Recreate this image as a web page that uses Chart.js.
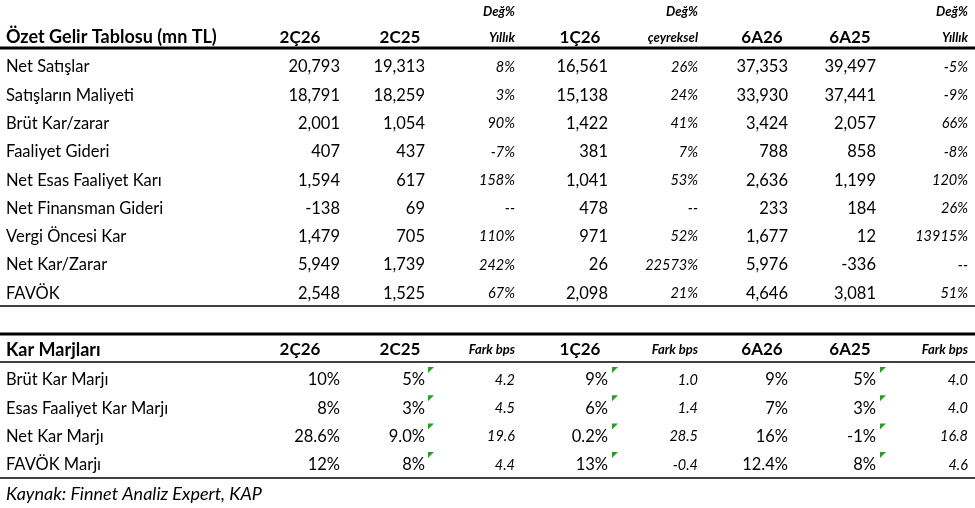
<!DOCTYPE html>
<html><head><meta charset="utf-8">
<script src="https://cdn.jsdelivr.net/npm/chart.js@4.4.1/dist/chart.umd.min.js"></script>
<style>html,body{margin:0;padding:0;background:#fff}#wrap{width:975px;height:508px}</style>
</head><body><div id="wrap"><canvas id="c"></canvas></div>
<script>
const incomeRows = ['Net Satışlar','Satışların Maliyeti','Brüt Kar/zarar','Faaliyet Gideri','Net Esas Faaliyet Karı','Net Finansman Gideri','Vergi Öncesi Kar','Net Kar/Zarar','FAVÖK'];
const q2_26 = ['20,793','18,791','2,001','407','1,594','-138','1,479','5,949','2,548'];
const q2_25 = ['19,313','18,259','1,054','437','617','69','705','1,739','1,525'];
const yoy = ['8%','3%','90%','-7%','158%','--','110%','242%','67%'];
const q1_26 = ['16,561','15,138','1,422','381','1,041','478','971','26','2,098'];
const qoq = ['26%','24%','41%','7%','53%','--','52%','22573%','21%'];
const h1_26 = ['37,353','33,930','3,424','788','2,636','233','1,677','5,976','4,646'];
const h1_25 = ['39,497','37,441','2,057','858','1,199','184','12','-336','3,081'];
const h1yoy = ['-5%','-9%','66%','-8%','120%','26%','13915%','--','51%'];

const marginRows = ['Brüt Kar Marjı','Esas Faaliyet Kar Marjı','Net Kar Marjı','FAVÖK Marjı'];
const m2_26 = ['10%','8%','28.6%','12%'];
const m2_25 = ['5%','3%','9.0%','8%'];
const mYoy = ['4.2','4.5','19.6','4.4'];
const m1_26 = ['9%','6%','0.2%','13%'];
const mQoq = ['1.0','1.4','28.5','-0.4'];
const mh1_26 = ['9%','7%','16%','12.4%'];
const mh1_25 = ['5%','3%','-1%','8%'];
const mH1yoy = ['4.0','4.0','16.8','4.6'];

const colRight = [340, 425, 515, 608, 698, 788, 876, 968];
const italicCol = [false,false,true,false,true,false,false,true];
const FONT = 'Lato, "Open Sans", sans-serif';

const tablePlugin = {
  id: 'table',
  afterDraw(chart) {
    const ctx = chart.ctx, sx = chart.scales.x, sy = chart.scales.y;
    const X = v => sx.getPixelForValue(v), Y = v => sy.getPixelForValue(v);
    const text = (s, x, y, align, font) => {
      ctx.font = font; ctx.textAlign = align; ctx.textBaseline = 'middle'; ctx.fillStyle = '#000';
      ctx.fillText(s, X(x), Y(y));
    };
    const line = (y, w) => {
      ctx.fillStyle = '#000'; ctx.fillRect(X(0), Y(y) - w / 2, X(975) - X(0), w);
    };
    const reg = '16.5px ' + FONT, bold = 'bold 18px ' + FONT, hbold = 'bold 17px ' + FONT;
    const small = 'italic bold 13px ' + FONT, ital = 'italic 14.5px ' + FONT;
    // table 1 header
    text('Değ%', 515, 12, 'right', small);
    text('Değ%', 698, 12, 'right', small);
    text('Değ%', 968, 12, 'right', small);
    text('Özet Gelir Tablosu (mn TL)', 6, 37, 'left', bold);
    const h1 = ['2Ç26','2C25','Yıllık','1Ç26','çeyreksel','6A26','6A25','Yıllık'];
    const h1x = [300, 400, 515, 580, 698, 762, 850, 968];
    h1.forEach((h, i) => text(h, h1x[i], 38, italicCol[i] ? 'right' : 'center', italicCol[i] ? small : hbold));
    line(48, 3);
    const cols1 = [q2_26, q2_25, yoy, q1_26, qoq, h1_26, h1_25, h1yoy];
    incomeRows.forEach((r, i) => {
      const y = 67 + i * 28.3;
      text(r, 6, y, 'left', reg);
      cols1.forEach((c, j) => text(c[i], colRight[j], y, 'right', italicCol[j] ? ital : reg));
    });
    line(306, 1.5);
    // table 2
    line(334, 3);
    text('Kar Marjları', 6, 350, 'left', bold);
    const h2 = ['2Ç26','2C25','Fark bps','1Ç26','Fark bps','6A26','6A25','Fark bps'];
    h2.forEach((h, i) => text(h, h1x[i], 350, italicCol[i] ? 'right' : 'center', italicCol[i] ? small : hbold));
    line(362, 1.5);
    const cols2 = [m2_26, m2_25, mYoy, m1_26, mQoq, mh1_26, mh1_25, mH1yoy];
    marginRows.forEach((r, i) => {
      const y = 380 + i * 28.3;
      text(r, 6, y, 'left', reg);
      cols2.forEach((c, j) => text(c[i], colRight[j], y, 'right', italicCol[j] ? ital : reg));
      [428, 612, 880].forEach(tx => {
        const ty = y - 13;
        ctx.fillStyle = '#2e9a2e'; ctx.beginPath();
        ctx.moveTo(X(tx), Y(ty)); ctx.lineTo(X(tx + 6), Y(ty)); ctx.lineTo(X(tx), Y(ty + 6)); ctx.fill();
      });
    });
    line(478, 1.5);
    text('Kaynak: Finnet Analiz Expert, KAP', 6, 494, 'left', 'italic 18px ' + FONT);
  }
};

new Chart(document.getElementById('c'), {
  type: 'scatter',
  data: { datasets: [] },
  options: {
    responsive: true, maintainAspectRatio: false, animation: false,
    layout: { padding: 0 },
    plugins: { legend: { display: false }, tooltip: { enabled: false } },
    scales: {
      x: { type: 'linear', min: 0, max: 975, display: false },
      y: { type: 'linear', min: 0, max: 508, reverse: true, display: false }
    }
  },
  plugins: [tablePlugin]
});
</script></body></html>
